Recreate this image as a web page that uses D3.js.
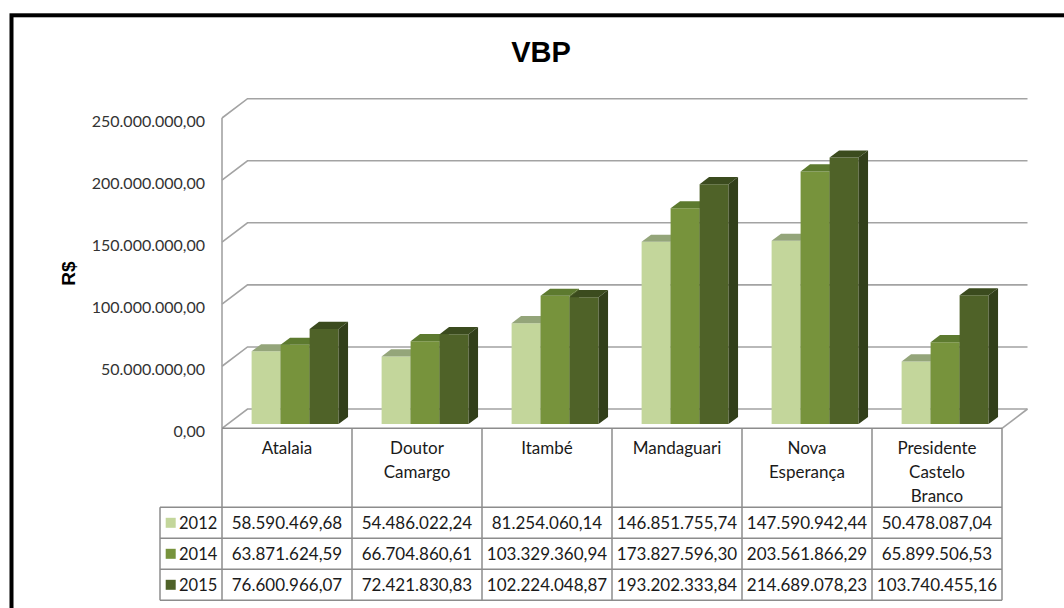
<!DOCTYPE html>
<html>
<head>
<meta charset="utf-8">
<script src="https://cdn.jsdelivr.net/npm/d3@7"></script>
<style>
  html, body { margin: 0; padding: 0; background: #fff; }
  svg { display: block; }
</style>
</head>
<body>
<svg id="chart" width="1064" height="608"></svg>
<script>
// ---- data ----
const categories = ["Atalaia", "Doutor Camargo", "Itambé", "Mandaguari", "Nova Esperança", "Presidente Castelo Branco"];
const years = ["2012", "2014", "2015"];
const values2012 = [58590469.68, 54486022.24, 81254060.14, 146851755.74, 147590942.44, 50478087.04];
const values2014 = [63871624.59, 66704860.61, 103329360.94, 173827596.30, 203561866.29, 65899506.53];
const values2015 = [76600966.07, 72421830.83, 102224048.87, 193202333.84, 214689078.23, 103740455.16];
const yTicks = [0, 50000000, 100000000, 150000000, 200000000, 250000000];
const chartTitle = "VBP";
const yTitle = "R$";

const series = [
  { year: years[0], values: values2012, front: "#c3d69b", top: "#94a57a", side: "#8a9a66" },
  { year: years[1], values: values2014, front: "#77933c", top: "#5d7a2f", side: "#53692a" },
  { year: years[2], values: values2015, front: "#4f6228", top: "#3b4b1e", side: "#323f1a" }
];

// pt-BR number format: 250.000.000,00
const ptBR = d3.formatLocale({ decimal: ",", thousands: ".", grouping: [3], currency: ["R$", ""] });
const fmt = ptBR.format(",.2f");

// ---- layout ----
const svg = d3.select("#chart");
const W = 1064, H = 608;
const plotLeft = 222, plotRight = 1002, floorY = 428.3, topY = 118;
const depth = { dx: 25.5, dy: -19.3 };      // full floor depth (front -> back wall)
const barFront = 0.22, barDepth = 0.37;     // bar placement inside the depth
const groupWidth = 87, groupShift = 2.5;

const y = d3.scaleLinear().domain([0, 250000000]).range([floorY, topY]);
const x = d3.scaleBand().domain(categories).range([plotLeft, plotRight]);
const xs = d3.scaleBand().domain(years).range([0, groupWidth]);

// project a point at floor position px, value v and depth fraction d
const proj = (px, v, d) => [px + d * depth.dx, y(v) + d * depth.dy];

const labelFont = "Lato, 'Open Sans', sans-serif";
const gridColor = "#a3a3a3";
const tableColor = "#8c8c8c";

// outer frame
svg.append("rect").attr("x", 0).attr("y", 0).attr("width", W).attr("height", H).attr("fill", "#fff");
svg.append("rect")
  .attr("x", 11.5).attr("y", 15.3).attr("width", 1100).attr("height", 700)
  .attr("fill", "#fff").attr("stroke", "#000").attr("stroke-width", 4);

// title
svg.append("text")
  .attr("x", 541).attr("y", 61.5)
  .attr("text-anchor", "middle")
  .attr("font-family", "'Liberation Sans', Arial, sans-serif")
  .attr("font-weight", "bold").attr("font-size", 29)
  .attr("fill", "#000")
  .text(chartTitle);

// y axis title
svg.append("text")
  .attr("transform", "translate(75,273.7) rotate(-90)")
  .attr("text-anchor", "middle")
  .attr("font-family", "'Liberation Sans', Arial, sans-serif")
  .attr("font-weight", "bold").attr("font-size", 19)
  .attr("fill", "#000")
  .text(yTitle);

// ---- walls & gridlines ----
const grid = svg.append("g").attr("fill", "none").attr("stroke", gridColor).attr("stroke-width", 1.6);
yTicks.forEach(t => {
  const a = proj(plotLeft, t, 0), b = proj(plotLeft, t, 1), c = proj(plotRight, t, 1);
  grid.append("path").attr("d", d3.line()([a, b, c]));
});
// left wall front edge
grid.append("path").attr("d", d3.line()([proj(plotLeft, 0, 0), proj(plotLeft, yTicks[yTicks.length - 1], 0)]));
// floor right edge
grid.append("path").attr("d", d3.line()([proj(plotRight, 0, 0), proj(plotRight, 0, 1)]));

// y tick labels
svg.append("g").selectAll("text").data(yTicks).join("text")
  .attr("x", 205).attr("y", d => y(d) + 9)
  .attr("text-anchor", "end")
  .attr("font-family", labelFont).attr("font-size", 16)
  .attr("fill", "#333")
  .text(d => fmt(d));

// ---- 3D bars ----
const bars = svg.append("g");
categories.forEach((cat, i) => {
  const x0 = x(cat) + (x.bandwidth() - groupWidth) / 2 + groupShift;
  series.forEach(s => {
    const v = s.values[i];
    const l = x0 + xs(s.year), r = l + xs.bandwidth();
    const fl0 = proj(l, 0, barFront), fr0 = proj(r, 0, barFront);
    const flv = proj(l, v, barFront), frv = proj(r, v, barFront);
    const blv = proj(l, v, barFront + barDepth), brv = proj(r, v, barFront + barDepth);
    const br0 = proj(r, 0, barFront + barDepth);
    const g = bars.append("g");
    // front face
    g.append("path").attr("d", d3.line()([fl0, flv, frv, fr0]) + "Z").attr("fill", s.front);
    // top face
    g.append("path").attr("d", d3.line()([flv, blv, brv, frv]) + "Z").attr("fill", s.top);
    // right side face
    g.append("path").attr("d", d3.line()([fr0, frv, brv, br0]) + "Z").attr("fill", s.side);
  });
});

// ---- data table ----
const legendLeft = 160;
const headerBottom = 507.3;
const rowH = 31;
const tableBottom = headerBottom + rowH * series.length;
const table = svg.append("g").attr("stroke", tableColor).attr("stroke-width", 1.5).attr("fill", "none");

// horizontal lines
table.append("line").attr("x1", plotLeft).attr("x2", plotRight).attr("y1", floorY).attr("y2", floorY);
d3.range(series.length + 1).forEach(k => {
  const yy = headerBottom + k * rowH;
  table.append("line").attr("x1", legendLeft).attr("x2", plotRight).attr("y1", yy).attr("y2", yy);
});
// vertical lines
table.append("line").attr("x1", legendLeft).attr("x2", legendLeft).attr("y1", headerBottom).attr("y2", tableBottom);
categories.forEach(c => {
  table.append("line").attr("x1", x(c)).attr("x2", x(c)).attr("y1", floorY).attr("y2", tableBottom);
});
table.append("line").attr("x1", plotRight).attr("x2", plotRight).attr("y1", floorY).attr("y2", tableBottom);

// category headers (wrapped on spaces)
const headers = svg.append("g")
  .attr("font-family", labelFont).attr("font-size", 17)
  .attr("fill", "#1a1a1a").attr("text-anchor", "middle");
categories.forEach(c => {
  const t = headers.append("text").attr("x", x(c) + x.bandwidth() / 2).attr("y", 454);
  c.split(" ").forEach((w, k) => {
    t.append("tspan").attr("x", x(c) + x.bandwidth() / 2).attr("dy", k === 0 ? 0 : 24).text(w);
  });
});

// legend keys + values
series.forEach((s, k) => {
  const cy = headerBottom + k * rowH + rowH / 2;
  svg.append("rect")
    .attr("x", 165.7).attr("y", cy - 5).attr("width", 10).attr("height", 10)
    .attr("fill", s.front);
  svg.append("text")
    .attr("x", 179).attr("y", cy + 6)
    .attr("font-family", labelFont).attr("font-size", 16.5)
    .attr("fill", "#1a1a1a")
    .text(s.year);
  svg.append("g").selectAll("text").data(s.values).join("text")
    .attr("x", (d, i) => x(categories[i]) + x.bandwidth() / 2)
    .attr("y", cy + 6)
    .attr("text-anchor", "middle")
    .attr("font-family", labelFont).attr("font-size", 17)
    .attr("fill", "#1a1a1a")
    .text(d => fmt(d));
});
</script>
</body>
</html>
